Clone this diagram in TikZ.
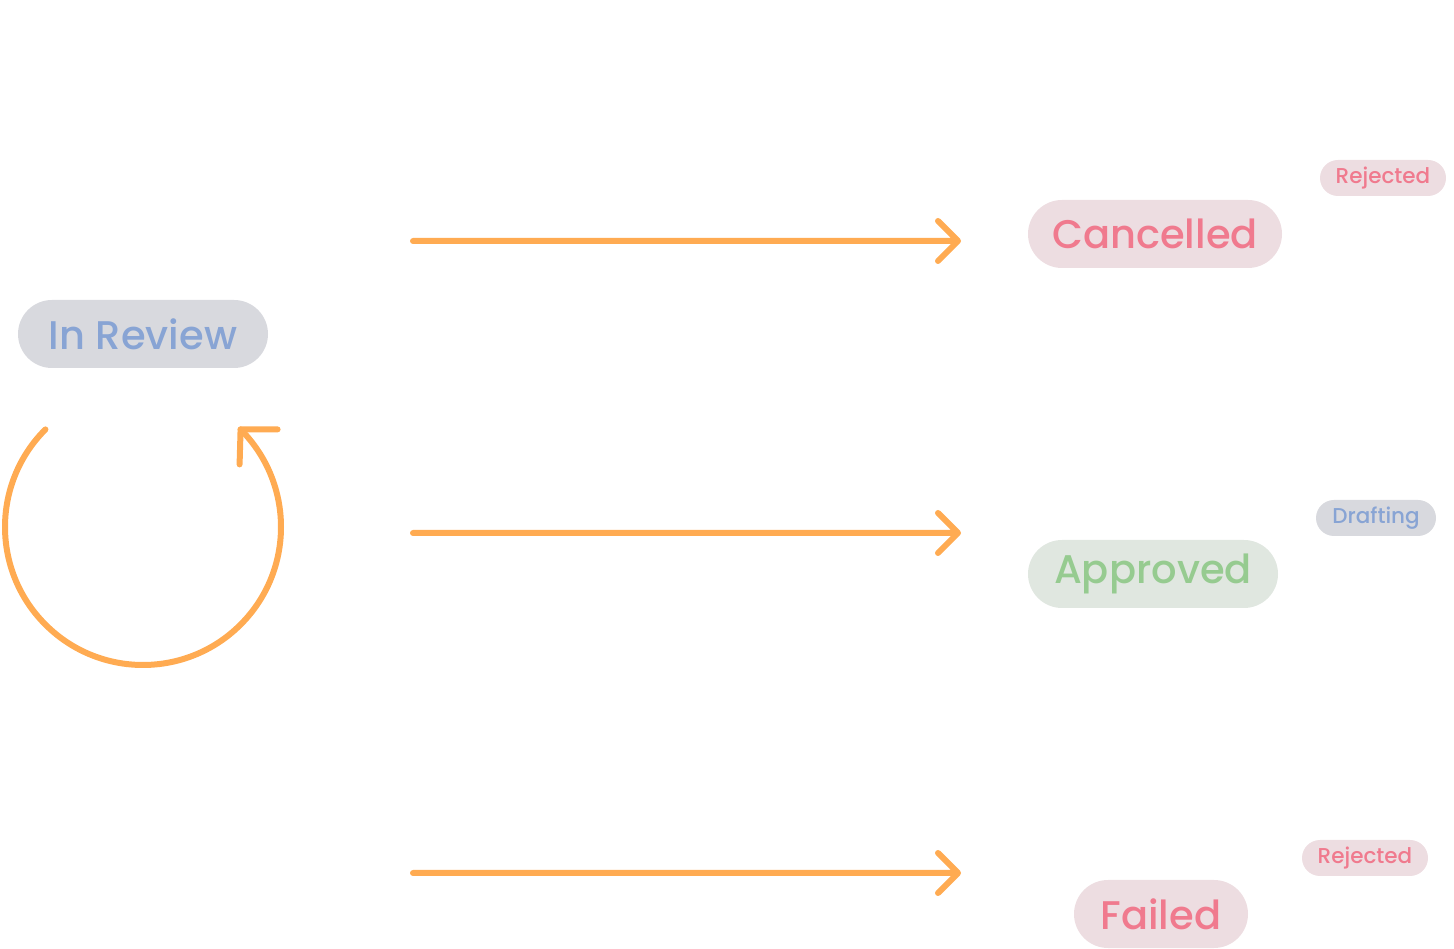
\documentclass[tikz,border=0pt]{standalone}
\usepackage{fontspec}
\setmainfont{Poppins}[UprightFont={* Medium}]
\usetikzlibrary{calc}
\definecolor{flow}{HTML}{FFAB52}
\definecolor{greyfill}{HTML}{D8D9DE}
\definecolor{bluetext}{HTML}{88A4D4}
\definecolor{pinkfill}{HTML}{EDDDE1}
\definecolor{pinktext}{HTML}{F07A8E}
\definecolor{greenfill}{HTML}{E0E7E0}
\definecolor{greentext}{HTML}{96CB90}
\begin{document}
\begin{tikzpicture}[x=1pt,y=1pt,
  pill/.style={rounded corners=34pt, minimum height=68pt, inner sep=0pt, font=\fontsize{40}{44}\selectfont},
  tag/.style={rounded corners=18pt, minimum height=36pt, inner sep=0pt, font=\fontsize{21.5}{24}\selectfont},
  grey/.style={fill=greyfill, text=bluetext},
  pink/.style={fill=pinkfill, text=pinktext},
  green/.style={fill=greenfill, text=greentext},
  flowline/.style={draw=flow, line width=6pt, line cap=round, line join=round}]
\useasboundingbox (0,0) rectangle (1454,948);

% state pills
\node[pill, grey, minimum width=250pt] (review) at (143,614) {In Review};
\node[pill, pink, minimum width=254pt] (cancelled) at (1155,714) {Cancelled};
\node[pill, green, minimum width=250pt] (approved) at (1153,374) {Approved};
\node[pill, pink, minimum width=174pt] (failed) at (1161,34) {Failed};

% small tags
\node[tag, pink, minimum width=126pt] (tag1) at (1383,770) {Rejected};
\node[tag, grey, minimum width=120pt] (tag2) at (1376,430) {Drafting};
\node[tag, pink, minimum width=126pt] (tag3) at (1365,90) {Rejected};

% transition arrows
\coordinate (s1) at (413,707); \coordinate (e1) at (958,707);
\coordinate (s2) at (413,415); \coordinate (e2) at (958,415);
\coordinate (s3) at (413,75);  \coordinate (e3) at (958,75);
\foreach \a/\b in {s1/e1, s2/e2, s3/e3}
  \draw[flowline] (\a) -- (\b) ++(-20,20) -- (\b) -- ++(-20,-20);

% self loop under In Review
\coordinate (loopc) at (143,421);
\coordinate (looptip) at ($(loopc)+(45:138)$);
\draw[flowline] (loopc) ++(135:138) arc[start angle=135, end angle=405, radius=138];
\draw[flowline] (looptip) ++(37,0) -- (looptip) -- ++(-1,-35);
\end{tikzpicture}
\end{document}
